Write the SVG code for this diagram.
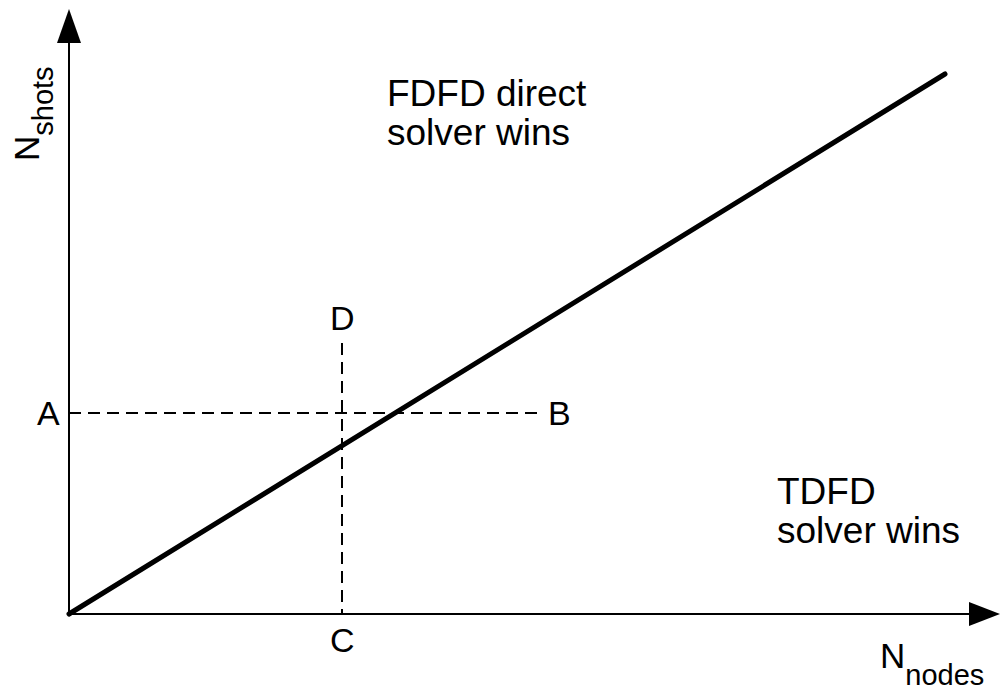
<svg xmlns="http://www.w3.org/2000/svg" width="1002" height="692" viewBox="0 0 1002 692">
<style>
text{font-family:"Liberation Sans",Arial,sans-serif;fill:#000;font-size:34px}
.big{font-size:37px}
.n{font-size:35px}
.sub{font-size:29px}
.axis{stroke:#000;stroke-width:2;fill:none}
.dash{stroke:#000;stroke-width:2;stroke-dasharray:12,7;fill:none}
.main{stroke:#000;stroke-width:5;fill:none;stroke-linecap:round}
</style>
<rect width="1002" height="692" fill="#fff"/>
<g id="connectors">
<line class="axis" x1="69" y1="614" x2="69" y2="38"/>
<polygon points="69,9 57,43 81,43" fill="#000"/>
<line class="axis" x1="69" y1="614" x2="975" y2="614"/>
<polygon points="1000,614 969,602 969,626" fill="#000"/>
<line class="main" x1="69" y1="614" x2="945" y2="74"/>
<line class="dash" x1="69" y1="413" x2="540" y2="413"/>
<line class="dash" x1="342" y1="343" x2="342" y2="614"/>
</g>
<g id="label-yaxis"><text class="n" transform="translate(39,161) rotate(-90)">N<tspan class="sub" dy="14">shots</tspan></text></g>
<g id="label-xaxis"><text class="n" x="880" y="668">N<tspan class="sub" dy="17">nodes</tspan></text></g>
<g id="label-fdfd"><text class="big" x="387" y="106">FDFD direct</text><text class="big" x="387" y="145">solver wins</text></g>
<g id="label-tdfd"><text class="big" x="777" y="504">TDFD</text><text class="big" x="777" y="543">solver wins</text></g>
<g id="label-A"><text x="37" y="425">A</text></g>
<g id="label-B"><text x="548" y="425">B</text></g>
<g id="label-C"><text x="330" y="652">C</text></g>
<g id="label-D"><text x="330" y="330">D</text></g>
</svg>
